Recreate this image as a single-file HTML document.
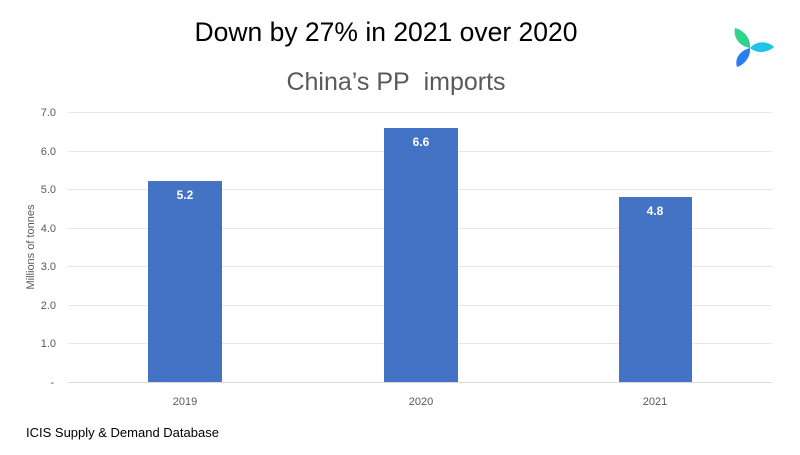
<!DOCTYPE html><html><head><style>body{margin:0;background:#fff}</style></head><body>
<svg width="800" height="450" xmlns="http://www.w3.org/2000/svg" font-family="Liberation Sans, sans-serif">
<rect width="800" height="450" fill="#fff"/>
<text x="386" y="41" font-size="26.5" text-anchor="middle" fill="#000">Down by 27% in 2021 over 2020</text>
<text x="396" y="90" font-size="25" text-anchor="middle" fill="#595959">China’s PP&#160; imports</text>
<g stroke="#e6e6e6" stroke-width="1">
<line x1="68" x2="772" y1="112.5" y2="112.5"/><line x1="68" x2="772" y1="151.5" y2="151.5"/>
<line x1="68" x2="772" y1="189.5" y2="189.5"/><line x1="68" x2="772" y1="228.5" y2="228.5"/>
<line x1="68" x2="772" y1="266.5" y2="266.5"/><line x1="68" x2="772" y1="305.5" y2="305.5"/>
<line x1="68" x2="772" y1="343.5" y2="343.5"/></g>
<line x1="68" x2="772" y1="382.5" y2="382.5" stroke="#d9d9d9"/>
<g font-size="11" fill="#595959" text-anchor="end">
<text x="56" y="116">7.0</text><text x="56" y="155">6.0</text><text x="56" y="193">5.0</text>
<text x="56" y="232">4.0</text><text x="56" y="270">3.0</text><text x="56" y="309">2.0</text>
<text x="56" y="347">1.0</text><text x="54" y="386">-</text></g>
<text transform="translate(34,247) rotate(-90)" font-size="11" fill="#595959" text-anchor="middle">Millions of tonnes</text>
<g fill="#4472c4"><rect x="148" y="181" width="74" height="201"/><rect x="384" y="128" width="74" height="254"/><rect x="619" y="197" width="73" height="185"/></g>
<g font-size="12" font-weight="bold" fill="#fff" text-anchor="middle">
<text x="185" y="199">5.2</text><text x="421" y="146">6.6</text><text x="655" y="215">4.8</text></g>
<g font-size="11" fill="#595959" text-anchor="middle">
<text x="185" y="405">2019</text><text x="421" y="405">2020</text><text x="655" y="405">2021</text></g>
<text x="26" y="437" font-size="13" fill="#000">ICIS Supply &amp; Demand Database</text>
<g transform="translate(750,48)">
<path d="M0,0 C-12,-2 -17,-12 -15,-20 C-6,-18 1,-9 0,0Z" fill="#2fd48c"/>
<path d="M0,0 C7,-8 18,-7 24,-1 C17,5 7,6 0,0Z" fill="#22c3e8"/>
<path d="M0,0 C1,9 -6,17 -13,19 C-16,10 -9,2 0,0Z" fill="#2a7ff0"/>
</g>
</svg></body></html>
